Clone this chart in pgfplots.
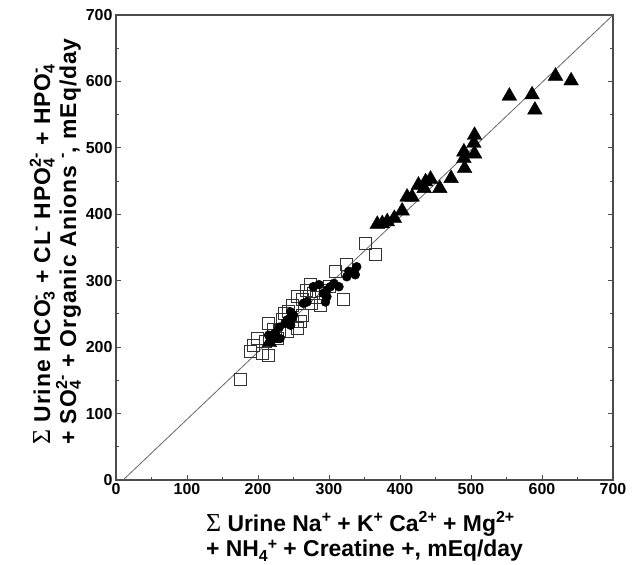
\documentclass[border=0pt]{standalone}
\usepackage{fontspec}
\setmainfont{Liberation Sans}
\newfontfamily\serifsym{Liberation Serif}
\usepackage{pgfplots}
\pgfplotsset{compat=1.18}
\newcommand\sm{\fontsize{16}{16}\selectfont}
\newcommand\sig{{\serifsym\mdseries\fontsize{26}{26}\selectfont Σ}}
\newcommand\sups[1]{\raisebox{0.40em}{\sm #1}}
\newcommand\subs[1]{\raisebox{-0.2em}{\sm #1}}
\newcommand\subsup[2]{\setbox0=\hbox{\sm #1}\setbox2=\hbox{\sm #2}%
  \ifdim\wd0>\wd2 \dimen0=\wd0 \else \dimen0=\wd2 \fi
  \rlap{\raisebox{0.40em}{\box2}}\rlap{\raisebox{-0.2em}{\box0}}\hspace{\dimen0}}
\begin{document}
\begin{tikzpicture}
\begin{axis}[
  width=497bp, height=465bp, scale only axis,
  xmin=0, xmax=700, ymin=0, ymax=700,
  xtick={0,100,...,700}, ytick={0,100,...,700},
  minor x tick num=1, minor y tick num=1,
  tick align=inside,
  xtick pos=left, ytick pos=both, yticklabel pos=left,
  major tick length=5bp, minor tick length=3bp,
  axis line style={draw=black!70, line width=1.1pt},
  every tick/.style={black!70, line width=0.9pt},
  tick label style={font=\fontsize{16}{16}\selectfont\bfseries},
  /pgf/number format/assume math mode=true,
  xlabel={\sig\ Urine Na\sups{+} + K\sups{+} Ca\sups{2+} + Mg\sups{2+}\\+ NH\subs{4}\raisebox{0.3em}{\sm +} + Creatine +, mEq/day},
  ylabel={\sig\ Urine HCO\subsup{3}{-} + CL\sups{-} HPO\subsup{4}{2-} + HPO\subsup{4}{-}\\+ SO\subsup{4}{2-} + Organic Anions \sups{-}, mEq/day},
  xlabel style={font=\fontsize{23}{25}\selectfont\bfseries, align=left, yshift=-10bp},
  ylabel style={font=\fontsize{23}{22}\selectfont\bfseries\addfontfeature{LetterSpace=4}, align=left, yshift=-2bp, xshift=6bp},
]
\addplot[black!60, line width=0.8pt, no marks] coordinates {(10,0) (700,700)};
\addplot[only marks, mark=square, mark size=6bp, mark options={draw=black!80, line width=1pt}] coordinates {
(175,152)(189,193)(194,203)(199,213)(206,191)(215,187)(215,236)(222,226)(227,213)(234,241)
(238,251)(241,223)(243,253)(248,263)(248,238)(255,228)(255,276)(260,238)(262,248)(262,271)
(274,294)(276,266)(278,281)(288,263)(290,286)(309,314)(321,271)(325,324)(351,356)(365,339)
(268,285)(300,292)(283,275)(230,225)(210,208)};
\addplot[only marks, mark=*, mark size=4.5bp, mark options={fill=black, draw=black}] coordinates {
(215,218)(217,208)(224,221)(231,213)(241,241)(246,233)(246,253)(248,243)(250,248)(264,266)
(269,268)(278,291)(286,294)(292,281)(295,268)(297,276)(297,286)(302,291)(307,296)(314,291)
(325,306)(328,314)(335,314)(337,309)(339,321)(230,230)(238,236)};
\addplot[only marks, mark=triangle*, mark size=8.5bp, mark options={fill=black, draw=black}] coordinates {
(216,207)(220,213)
(554,578)(586,580)(590,557)(619,608)(641,601)(505,519)(504,507)(505,491)(490,494)(490,484)
(491,469)(472,454)(456,439)(443,453)(436,449)(426,444)(434,439)(417,426)(410,426)(403,405)
(392,394)(382,389)(375,386)(368,385)};
\end{axis}
\pgfresetboundingbox
\path[use as bounding box] (current axis.south west) ++(-116bp,-85bp) rectangle ++(644bp,565bp);
\end{tikzpicture}
\end{document}
